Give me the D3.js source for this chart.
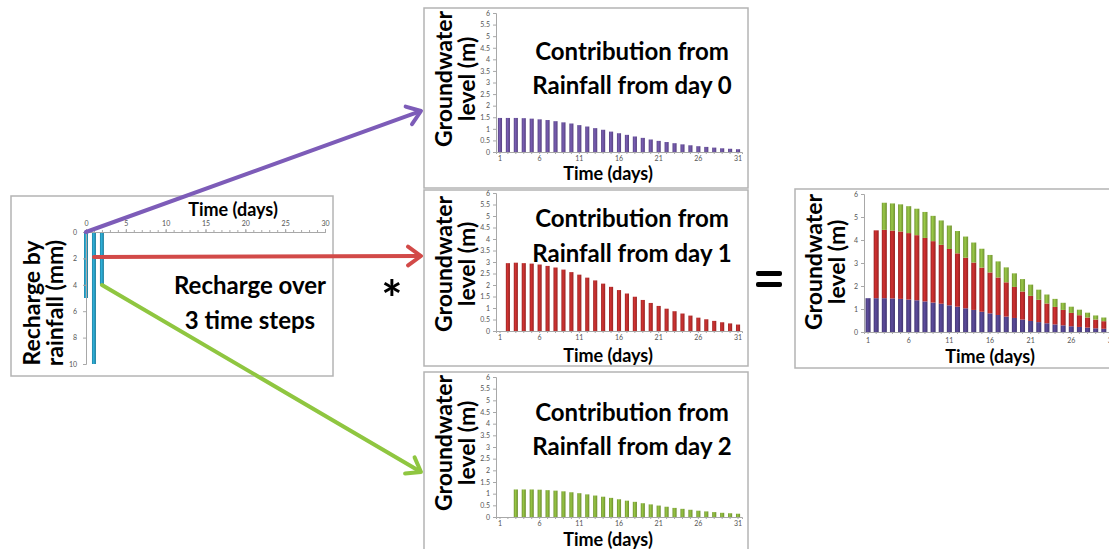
<!DOCTYPE html>
<html>
<head>
<meta charset="utf-8">
<script src="https://cdn.jsdelivr.net/npm/d3@7"></script>
<style>
  html, body { margin: 0; padding: 0; background: #fff; }
  svg { display: block; }
  text { font-family: Lato, "Open Sans", sans-serif; }
</style>
</head>
<body>
<svg id="chart" width="1109" height="549"></svg>
<script>
// ---------- DATA ----------
const days = [1,2,3,4,5,6,7,8,9,10,11,12,13,14,15,16,17,18,19,20,21,22,23,24,25,26,27,28,29,30,31];
const dayLabels = [1,6,11,16,21,26,31];
const yTicks = [0,0.5,1,1.5,2,2.5,3,3.5,4,4.5,5,5.5,6];
const yTicksStack = [0,1,2,3,4,5,6];

// groundwater contribution of rainfall from day 0 (m)
const fromDay0 = [1.47,1.47,1.47,1.46,1.44,1.41,1.38,1.33,1.28,1.23,1.16,1.10,1.03,0.96,0.88,0.81,
                  0.74,0.67,0.61,0.54,0.48,0.43,0.38,0.33,0.29,0.25,0.22,0.19,0.16,0.14,0.12];
// from day 1 (starts on day 2)
const fromDay1 = [0,2.95,2.97,2.95,2.93,2.89,2.83,2.76,2.67,2.56,2.45,2.32,2.20,2.06,1.92,1.78,
                  1.63,1.49,1.35,1.22,1.09,0.97,0.86,0.76,0.67,0.58,0.51,0.44,0.38,0.33,0.28];
// from day 2 (starts on day 3)
const fromDay2 = [0,0,1.18,1.18,1.18,1.17,1.15,1.13,1.10,1.06,1.02,0.97,0.92,0.87,0.82,0.76,
                  0.70,0.65,0.59,0.54,0.49,0.44,0.39,0.35,0.31,0.27,0.24,0.21,0.18,0.16,0.14];

// recharge by rainfall
const rechargeDays = [0,1,2];
const rechargeMM = [5,10,4];
const rechargeXTicks = [0,5,10,15,20,25,30];
const rechargeYTicks = [0,2,4,6,8,10];

// ---------- STYLE ----------
const C = {
  purple: "#6e55a3", red: "#bf2f2e", green: "#8ab53d",
  sPurple: "#54458f", sRed: "#c02c2c", sGreen: "#8db840",
  aPurple: "#7d5cb8", aRed: "#d24a48", aGreen: "#8fc640",
  teal: "#2aa0c6", frame: "#b4b4b4", axis: "#a8a8a8", tick: "#555"
};
const FONT = 'Lato, "Open Sans", sans-serif';

const svg = d3.select("#chart");
svg.append("rect").attr("width",1109).attr("height",549).attr("fill","#fff");

const defs = svg.append("defs");
function gradient(id, base) {
  const g = defs.append("linearGradient").attr("id", id).attr("x1","0").attr("x2","1").attr("y1","0").attr("y2","0");
  const c = d3.color(base);
  g.append("stop").attr("offset","0%").attr("stop-color", c.darker(0.6));
  g.append("stop").attr("offset","40%").attr("stop-color", c.brighter(0.25));
  g.append("stop").attr("offset","100%").attr("stop-color", c.darker(0.7));
}
gradient("gPurple", C.purple); gradient("gRed", C.red); gradient("gGreen", C.green);
gradient("gSPurple", C.sPurple); gradient("gSRed", C.sRed); gradient("gSGreen", C.sGreen);
gradient("gTeal", C.teal);

function frame(x, y, w, h) {
  svg.append("rect").attr("x", x).attr("y", y).attr("width", w).attr("height", h)
    .attr("fill", "#fff").attr("stroke", C.frame).attr("stroke-width", 1.5);
}

function styleAxis(g) {
  g.selectAll("path.domain").attr("stroke", C.axis).attr("stroke-width", 1);
  g.selectAll(".tick line").attr("stroke", C.axis);
  g.selectAll(".tick text").attr("fill", C.tick).attr("font-size", 7).attr("font-family", FONT);
}

function bold(x, y, str, size, opts = {}) {
  const t = svg.append("text").attr("x", x).attr("y", y).text(str)
    .attr("font-size", size).attr("font-weight", 700).attr("fill", "#000")
    .attr("text-anchor", opts.anchor || "middle");
  if (opts.rotate) t.attr("transform", `rotate(-90 ${x} ${y})`);
  return t;
}

const TITLE = 24, YT = 23, XT = 18;

// ---------- single-series panels ----------
function panel(cfg) {
  frame(cfg.box[0], cfg.box[1], cfg.box[2], cfg.box[3]);
  const x = d3.scaleBand().domain(days).range(cfg.xr).paddingInner(0.48).paddingOuter(0.24);
  const y = d3.scaleLinear().domain([0, 6]).range(cfg.yr);
  const g = svg.append("g");
  g.selectAll("rect").data(days.map((d, i) => ({ d, v: cfg.values[i] })).filter(o => o.v > 0))
    .join("rect")
    .attr("x", o => x(o.d)).attr("width", x.bandwidth())
    .attr("y", o => y(o.v)).attr("height", o => y(0) - y(o.v))
    .attr("fill", cfg.fill);
  const ya = svg.append("g").attr("transform", `translate(${cfg.xr[0]},0)`)
    .call(d3.axisLeft(y).tickValues(yTicks).tickSize(3).tickPadding(3).tickFormat(d3.format("~g")));
  styleAxis(ya);
  const xa = svg.append("g").attr("transform", `translate(0,${cfg.yr[0]})`)
    .call(d3.axisBottom(x).tickValues(days).tickSize(2).tickPadding(2)
      .tickFormat(d => dayLabels.includes(d) ? d : ""));
  styleAxis(xa);
  // titles
  bold(cfg.yt[0], cfg.yt[2], "Groundwater", YT, { rotate: true });
  bold(cfg.yt[1], cfg.yt[2], "level (m)", YT, { rotate: true });
  bold(cfg.xt[0], cfg.xt[1], "Time (days)", XT);
  bold(632, cfg.title[0], "Contribution from", TITLE);
  bold(632, cfg.title[1], cfg.titleText, TITLE);
}

panel({ box: [424, 8, 324, 180], xr: [496, 742], yr: [152, 13], values: fromDay0,
        fill: "url(#gPurple)", yt: [452, 475, 79], xt: [608, 180],
        title: [60, 94], titleText: "Rainfall from day 0" });
panel({ box: [424, 190, 324, 176], xr: [496, 742], yr: [331, 193], values: fromDay1,
        fill: "url(#gRed)", yt: [452, 475, 264], xt: [608, 362],
        title: [227, 262], titleText: "Rainfall from day 1" });
panel({ box: [424, 372, 324, 182], xr: [496, 742], yr: [517, 377], values: fromDay2,
        fill: "url(#gGreen)", yt: [452, 475, 443], xt: [608, 546],
        title: [421, 455], titleText: "Rainfall from day 2" });

// ---------- stacked panel ----------
(function () {
  frame(795, 189, 320, 179);
  const xr = [864, 1116], yr = [332, 194];
  const x = d3.scaleBand().domain(days).range(xr).paddingInner(0.38).paddingOuter(0.19);
  const y = d3.scaleLinear().domain([0, 6]).range(yr);
  const rows = days.map((d, i) => ({ day: d, a: fromDay0[i], b: fromDay1[i], c: fromDay2[i] }));
  const series = d3.stack().keys(["a", "b", "c"])(rows);
  const fills = { a: "url(#gSPurple)", b: "url(#gSRed)", c: "url(#gSGreen)" };
  svg.append("g").selectAll("g").data(series).join("g").attr("fill", s => fills[s.key])
    .selectAll("rect").data(s => s.filter(p => p[1] - p[0] > 0)).join("rect")
    .attr("x", p => x(p.data.day)).attr("width", x.bandwidth())
    .attr("y", p => y(p[1])).attr("height", p => y(p[0]) - y(p[1]));
  const ya = svg.append("g").attr("transform", `translate(${xr[0]},0)`)
    .call(d3.axisLeft(y).tickValues(yTicksStack).tickSize(3).tickPadding(3).tickFormat(d3.format("~g")));
  styleAxis(ya);
  const xa = svg.append("g").attr("transform", `translate(0,${yr[0]})`)
    .call(d3.axisBottom(x).tickValues(days).tickSize(2).tickPadding(4)
      .tickFormat(d => dayLabels.includes(d) ? d : ""));
  styleAxis(xa);
  bold(822, 262, "Groundwater", YT, { rotate: true });
  bold(845, 262, "level (m)", YT, { rotate: true });
  bold(990, 363, "Time (days)", XT);
})();

// ---------- recharge panel ----------
(function () {
  frame(11, 196, 322, 180);
  const x = d3.scaleLinear().domain([0, 30]).range([86, 325]);
  const y = d3.scaleLinear().domain([0, 10]).range([232, 364]);
  svg.append("g").selectAll("rect").data(rechargeDays.map((d, i) => ({ d, v: rechargeMM[i] })))
    .join("rect")
    .attr("x", o => x(o.d) - 2).attr("width", 4)
    .attr("y", y(0)).attr("height", o => y(o.v) - y(0))
    .attr("fill", "url(#gTeal)");
  const minor = svg.append("g").attr("transform", `translate(0,${y(0)})`)
    .call(d3.axisTop(x).tickValues(d3.range(0, 31)).tickSize(2).tickFormat(""));
  styleAxis(minor);
  const xa = svg.append("g").attr("transform", `translate(0,${y(0)})`)
    .call(d3.axisTop(x).tickValues(rechargeXTicks).tickSize(3).tickPadding(3));
  styleAxis(xa);
  const ya = svg.append("g").attr("transform", `translate(${x(0)},0)`)
    .call(d3.axisLeft(y).tickValues(rechargeYTicks).tickSize(3).tickPadding(6));
  styleAxis(ya);
  bold(233, 216, "Time (days)", XT);
  bold(40, 303, "Recharge by", YT, { rotate: true });
  bold(63, 303, "rainfall (mm)", YT, { rotate: true });
  bold(250, 294, "Recharge over", TITLE);
  bold(250, 329, "3 time steps", TITLE);
})();

// ---------- arrows ----------
function arrow(x1, y1, x2, y2, color) {
  const g = svg.append("g").attr("stroke", color).attr("stroke-width", 4).attr("fill", "none")
    .attr("stroke-linecap", "round").attr("stroke-linejoin", "round");
  const a = Math.atan2(y2 - y1, x2 - x1), L = 16, s = Math.PI / 5;
  g.append("line").attr("x1", x1).attr("y1", y1).attr("x2", x2 - 2 * Math.cos(a)).attr("y2", y2 - 2 * Math.sin(a));
  g.append("path").attr("d",
    `M${x2 - L * Math.cos(a - s)},${y2 - L * Math.sin(a - s)}L${x2},${y2}L${x2 - L * Math.cos(a + s)},${y2 - L * Math.sin(a + s)}`);
}
arrow(86, 232, 421, 111, C.aPurple);
arrow(94, 257, 421, 256, C.aRed);
arrow(102, 285, 421, 472, C.aGreen);

// ---------- operators ----------
svg.append("text").attr("x", 392).attr("y", 317).attr("text-anchor", "middle")
  .attr("font-size", 50).attr("font-weight", 700).attr("fill", "#000").text("*");
svg.append("rect").attr("x", 756).attr("y", 271).attr("width", 26).attr("height", 5).attr("rx", 2).attr("fill", "#000");
svg.append("rect").attr("x", 756).attr("y", 282).attr("width", 26).attr("height", 5).attr("rx", 2).attr("fill", "#000");
</script>
</body>
</html>
